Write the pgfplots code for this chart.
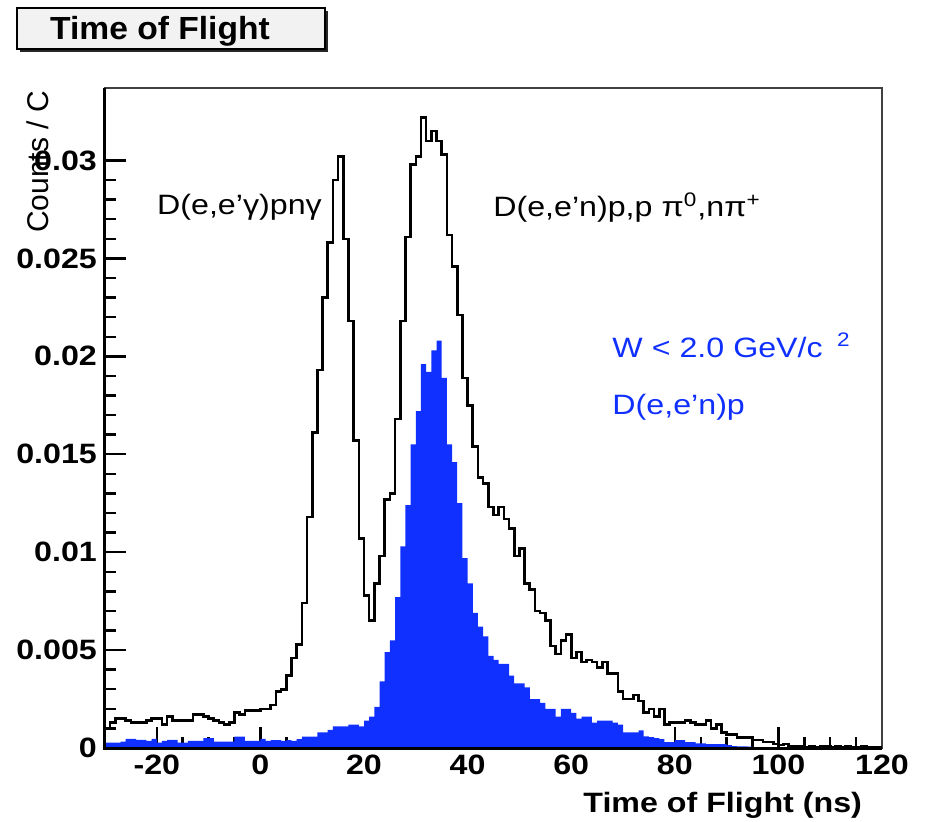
\documentclass[border=0pt]{standalone}
\usepackage{fontspec}
\setmainfont{Liberation Sans}
\usepackage{pgfplots}
\pgfplotsset{compat=1.18}
\usepackage{pgfplotstable}
\definecolor{rootblue}{RGB}{16,48,255}

\pgfplotstableread{
x y
-30 0.0010
-29 0.0013
-28 0.0015
-27 0.0015
-26 0.0014
-25 0.0013
-24 0.0013
-23 0.0013
-22 0.0014
-21 0.0015
-20 0.0015
-19 0.0012
-18 0.0016
-17 0.0014
-16 0.0014
-15 0.0014
-14 0.0014
-13 0.0017
-12 0.0017
-11 0.0016
-10 0.0015
-9 0.0014
-8 0.0013
-7 0.0012
-6 0.0013
-5 0.0018
-4 0.0017
-3 0.0019
-2 0.0019
-1 0.0019
0 0.0020
1 0.0020
2 0.0022
3 0.0029
4 0.0030
5 0.0037
6 0.0046
7 0.0053
8 0.0074
9 0.0118
10 0.0161
11 0.0193
12 0.0230
13 0.0258
14 0.0290
15 0.0302
16 0.0260
17 0.0218
18 0.0157
19 0.0107
20 0.0078
21 0.0065
22 0.0084
23 0.0098
24 0.0127
25 0.0130
26 0.0168
27 0.0218
28 0.0261
29 0.0298
30 0.0302
31 0.0322
32 0.0310
33 0.0315
34 0.0310
35 0.0303
36 0.0262
37 0.0246
38 0.0221
39 0.0189
40 0.0175
41 0.0154
42 0.0138
43 0.0135
44 0.0123
45 0.0119
46 0.0123
47 0.0117
48 0.0112
49 0.0098
50 0.0102
51 0.0084
52 0.0081
53 0.0070
54 0.0069
55 0.0065
56 0.0052
57 0.0048
58 0.0055
59 0.0058
60 0.0046
61 0.0049
62 0.0044
63 0.0045
64 0.0044
65 0.0041
66 0.0044
67 0.0038
68 0.0038
69 0.0029
70 0.0025
71 0.0025
72 0.0027
73 0.0024
74 0.0018
75 0.0020
76 0.0016
77 0.0020
78 0.0012
79 0.0013
80 0.0013
81 0.0013
82 0.0014
83 0.0013
84 0.0012
85 0.0012
86 0.0014
87 0.0010
88 0.0012
89 0.0008
90 0.0007
91 0.0007
92 0.00055
93 0.00055
94 0.00055
95 0.0004
96 0.0004
97 0.0003
98 0.0003
99 0.0002
100 0.00015
101 0.0002
102 0.0001
103 0.00007
104 0.0001
105 0.00006
106 0.0001
107 0.00005
108 0.00008
109 0.0001
110 0.00005
111 0.00008
112 0.00004
113 0.0001
114 0.00005
115 0.00003
116 0.00007
117 0.00004
118 0.00005
119 0.00006
120 0.00006
}\blackdata

\pgfplotstableread{
x y
-30 0.00027
-29 0.00027
-28 0.00027
-27 0.00032
-26 0.00046
-25 0.00046
-24 0.00041
-23 0.00041
-22 0.00037
-21 0.00046
-20 0.00027
-19 0.00037
-18 0.00041
-17 0.00041
-16 0.00027
-15 0.00027
-14 0.00037
-13 0.00037
-12 0.00037
-11 0.0005
-10 0.0005
-9 0.00032
-8 0.00032
-7 0.00032
-6 0.00032
-5 0.00058
-4 0.00058
-3 0.00037
-2 0.00037
-1 0.00037
0 0.00046
1 0.00037
2 0.0004
3 0.0004
4 0.00037
5 0.0004
6 0.00037
7 0.00045
8 0.00058
9 0.00058
10 0.00058
11 0.0008
12 0.0008
13 0.00092
14 0.0011
15 0.0011
16 0.0011
17 0.0012
18 0.0012
19 0.0011
20 0.0014
21 0.0016
22 0.0021
23 0.0034
24 0.0049
25 0.0055
26 0.0077
27 0.0103
28 0.0124
29 0.0155
30 0.0172
31 0.0196
32 0.0192
33 0.0203
34 0.0208
35 0.0189
36 0.0155
37 0.0146
38 0.0125
39 0.0097
40 0.0084
41 0.0069
42 0.0062
43 0.0057
44 0.0047
45 0.0045
46 0.0043
47 0.0043
48 0.0037
49 0.0033
50 0.0033
51 0.0031
52 0.0025
53 0.0025
54 0.0023
55 0.0020
56 0.0020
57 0.0016
58 0.0020
59 0.0020
60 0.0018
61 0.0015
62 0.0016
63 0.0016
64 0.0013
65 0.0014
66 0.0014
67 0.0014
68 0.0013
69 0.0012
70 0.0008
71 0.0008
72 0.0008
73 0.0009
74 0.0006
75 0.00055
76 0.0005
77 0.00045
78 0.0003
79 0.0003
80 0.0004
81 0.0004
82 0.0003
83 0.0003
84 0.00024
85 0.00024
86 0.0002
87 0.0002
88 0.0002
89 0.0002
90 0.00015
91 0.0001
92 0.00008
93 0.00008
94 0.00007
95 0.00005
96 0.00005
97 0.00004
98 0.00004
99 0.00004
100 0.00005
101 0.00004
102 0.00003
103 0.00006
104 0.00004
105 0.00003
106 0.00004
107 0.00003
108 0.00004
109 0.00003
110 0.00003
111 0.00004
112 0.00003
113 0.00003
114 0.00004
115 0.00003
116 0.00003
117 0.00003
118 0.00003
119 0.00003
120 0.00003
}\bluedata

\begin{document}
\begin{tikzpicture}
\path[use as bounding box] (-52.5pt,-36.5pt) rectangle (410.5pt,374pt);
\begin{axis}[
  at={(0pt,0pt)}, anchor=south west,
  scale only axis, width=388.5pt, height=330pt,
  xmin=-30, xmax=120, ymin=0, ymax=0.0337,
  scaled y ticks=false, scaled x ticks=false,
  xtick={-20,0,20,40,60,80,100,120},
  xticklabels={-20,0,20,40,60,80,100,120},
  minor x tick num=3,
  ytick={0,0.005,0.01,0.015,0.02,0.025,0.03},
  yticklabels={0,0.005,0.01,0.015,0.02,0.025,0.03},
  minor y tick num=4,
  tick align=inside, tick pos=left,
  major tick length=10.5pt, minor tick length=5.5pt,
  every tick/.style={line width=1.2pt, black},
  axis line style={line width=0.7pt, black!75},
  tick label style={font=\fontsize{14}{14}\selectfont\bfseries, xscale=1.15},
  clip=false,
]
\addplot[const plot, fill=rootblue, draw=none] table {\bluedata} \closedcycle;
\addplot[const plot, draw=black, line width=1.3pt] table {\blackdata};
\draw[line width=1.5pt, black] (rel axis cs:0,1) -- (rel axis cs:0,0) -- (rel axis cs:1,0);
\node[anchor=west, font=\fontsize{14}{16}\selectfont, xscale=1.15] at (axis cs:-21.5,0.0276) {D(e,e’γ)pnγ};
\node[anchor=west, font=\fontsize{14}{16}\selectfont, xscale=1.15] at (axis cs:43.4,0.0276) {D(e,e’n)p,p π\textsuperscript{0},nπ\textsuperscript{+}};
\node[anchor=west, font=\fontsize{14}{16}\selectfont, xscale=1.15, text=rootblue] at (axis cs:66.4,0.02056) {W < 2.0 GeV/c\hspace{0.45em}\textsuperscript{2}};
\node[anchor=west, font=\fontsize{14}{16}\selectfont, xscale=1.15, text=rootblue] at (axis cs:66.4,0.01741) {D(e,e’n)p};
\end{axis}
\node[rotate=90, anchor=east, font=\fontsize{15}{16}\selectfont] at (-33.5pt,332pt) {Counts / C};
\node[anchor=east, font=\fontsize{14}{16}\selectfont\bfseries, xscale=1.15] at (382.5pt,-28.5pt) {Time of Flight (ns)};
\fill[black!85] (-42.5pt,348pt) rectangle (111.5pt,368.5pt);
\draw[fill=black!5, line width=0.6pt] (-44pt,349.5pt) rectangle (110pt,370pt);
\node[anchor=center, font=\fontsize{16}{18}\selectfont\bfseries, xscale=1.05] at (27.5pt,358.5pt) {Time of Flight};
\end{tikzpicture}
\end{document}
